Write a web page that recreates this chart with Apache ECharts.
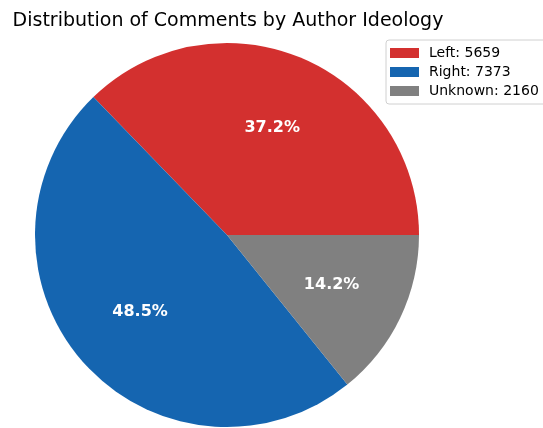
<!DOCTYPE html>
<html><head><meta charset="utf-8">
<script src="https://cdn.jsdelivr.net/npm/echarts@6/dist/echarts.min.js"></script>
<style>html,body{margin:0;padding:0;background:#fff}#c{width:543px;height:428px}</style>
</head><body><div id="c"></div>
<script>
const categories = ['Left', 'Right', 'Unknown'];
const counts = [5659, 7373, 2160];
const colors = ['#d3302f', '#1565b0', '#808080'];
const total = counts.reduce((a, b) => a + b, 0);
const data = categories.map((c, i) => ({ name: c + ': ' + counts[i], value: counts[i], itemStyle: { color: colors[i] } }));
const chart = echarts.init(document.getElementById('c'), null, { renderer: 'canvas' });
const font = '"DejaVu Sans", sans-serif';
chart.setOption({
  animation: false,
  title: {
    text: 'Distribution of Comments by Author Ideology',
    left: 223, textAlign: 'center', top: 7,
    textStyle: { fontFamily: font, fontSize: 19, fontWeight: 'normal', color: '#000' }
  },
  legend: {
    orient: 'vertical', left: 386, top: 40,
    backgroundColor: '#fff', borderColor: '#d0d0d0', borderWidth: 1, borderRadius: 3,
    padding: [6, 8, 6, 4], itemWidth: 29, itemHeight: 10, itemGap: 5,
    icon: 'rect',
    textStyle: { fontFamily: font, fontSize: 14, color: '#000', padding: [0, 0, 0, 5], lineHeight: 14 },
    data: data.map(d => d.name)
  },
  series: [
    {
      type: 'pie', center: [227, 235], radius: [0, 192],
      startAngle: 0, clockwise: false,
      label: { show: false }, labelLine: { show: false },
      emphasis: { disabled: true },
      data: data
    },
    {
      type: 'pie', center: [227, 235], radius: [34, 192],
      startAngle: 0, clockwise: false, silent: true,
      itemStyle: { color: 'rgba(0,0,0,0)' },
      label: {
        show: true, position: 'inside',
        formatter: p => (p.value / total * 100).toFixed(1) + '%',
        fontFamily: font, fontSize: 16, fontWeight: 'bold', color: '#fff'
      },
      labelLine: { show: false },
      emphasis: { disabled: true },
      data: data.map(d => ({ name: d.name, value: d.value }))
    }
  ]
});
</script></body></html>
